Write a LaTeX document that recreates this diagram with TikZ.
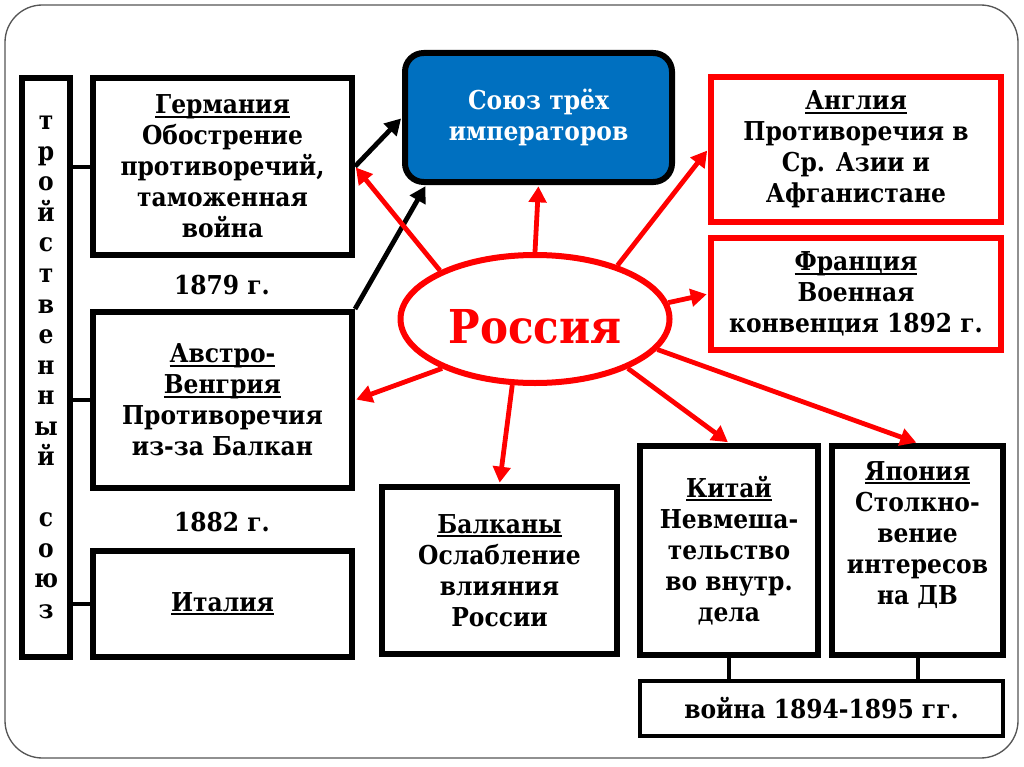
\documentclass[tikz,border=0pt]{standalone}
\usepackage{fontspec}
\setmainfont{DejaVu Serif Condensed}
\usepackage{tikz}
\usetikzlibrary{arrows.meta}
\usetikzlibrary{shapes.geometric}

\definecolor{unionblue}{RGB}{0,112,192}
\definecolor{framegray}{RGB}{85,85,85}
\newcommand{\boxfont}{\fontsize{19.5}{23.3}\selectfont\bfseries}
\newcommand{\uhead}[1]{\leavevmode\setbox0\hbox{#1}\rlap{\rule[-3pt]{\wd0}{1.5pt}}\box0}

\begin{document}
\begin{tikzpicture}[x=0.75pt, y=-0.75pt,
    >={Triangle[length=12pt,width=13pt]},
    box/.style={draw, line width=4.5pt, inner sep=0pt, align=center, font=\boxfont},
    boxsize/.style 2 args={minimum width=#1*0.75pt, minimum height=#2*0.75pt},
    redbox/.style={box, draw=red},
    redarrow/.style={->, draw=red, line width=3.6pt, shorten >=1pt},
    blackarrow/.style={->, line width=3.6pt, shorten >=1pt},
    link/.style={line width=3pt}]
  \useasboundingbox (0,0) rectangle (1024,767);
  \draw[framegray, line width=1pt, rounded corners=28pt] (5,5) rectangle (1018,758);

  % left column
  \node[box, boxsize={48}{579}, font=\fontsize{19.5}{22.9}\selectfont\bfseries] (trio) at (46,367.5)
    {т\\р\\о\\й\\с\\т\\в\\е\\н\\н\\ы\\й\\[22.9pt]с\\о\\ю\\з};
  \node[box, boxsize={259}{177}] (germany) at (222.5,166.5) {\uhead{Германия}\\Обострение\\противоречий,\\таможенная\\война};
  \node[font=\boxfont] (y1879) at (222,285) {1879 г.};
  \node[box, boxsize={259}{176}] (austria) at (222.5,400) {\uhead{Австро-}\\\uhead{Венгрия}\\Противоречия\\из-за Балкан};
  \node[font=\boxfont] (y1882) at (222,522) {1882 г.};
  \node[box, boxsize={259}{106}] (italy) at (222.5,604) {\uhead{Италия}};

  % centre
  \node[box, boxsize={267}{129}, fill=unionblue, text=white, rounded corners=14pt] (union) at (538.5,117.5) {Союз трёх\\императоров};
  \node[ellipse, draw=red, line width=4.5pt, inner sep=0pt, minimum width=201.75pt, minimum height=96pt,
        text=red, font=\fontsize{35}{40}\selectfont\bfseries, text height=36pt, text depth=0pt] (russia) at (535,319) {Россия};
  \node[box, boxsize={235}{167}] (balkans) at (499.5,570.5) {\uhead{Балканы}\\Ослабление\\влияния\\России};

  % right column
  \node[redbox, boxsize={290}{145}] (england) at (856,149.5) {\uhead{Англия}\\Противоречия в\\Ср. Азии и\\Афганистане};
  \node[redbox, boxsize={290}{112}] (france) at (856,294) {\uhead{Франция}\\Военная\\конвенция 1892 г.};
  \node[box, boxsize={178}{209}] (china) at (729,550.5) {\uhead{Китай}\\Невмеша-\\тельство\\во внутр.\\дела};
  \node[box, boxsize={171}{209}] (japan) at (917.5,550.5) {\uhead{Япония}\\Столкно-\\вение\\интересов\\на ДВ\\[3pt]\mbox{}};
  \node[box, boxsize={363}{55}, line width=3.5pt] (war) at (821.5,708.5) {война 1894-1895 гг.};

  % links
  \draw[link] (trio.east |- germany.west) -- (germany.west);
  \draw[link] (trio.east |- austria.west) -- (austria.west);
  \draw[link] (trio.east |- italy.west) -- (italy.west);
  \draw[link] (china.south) -- (china.south |- war.north);
  \draw[link] (japan.south) -- (japan.south |- war.north);

  % arrows
  \draw[blackarrow] (germany.east) -- (union.west);
  \draw[blackarrow] (austria.north east) -- (union.211);
  \draw[redarrow] (russia.north) -- (union.south);
  \draw[redarrow] (russia.153) -- (germany.east);
  \draw[redarrow] (russia.33) -- (england.west);
  \draw[redarrow] (russia.7) -- (france.west);
  \draw[redarrow] (russia.208) -- (austria.east);
  \draw[redarrow] (russia.251) -- (balkans.north);
  \draw[redarrow] (russia.332) -- (china.north);
  \draw[redarrow] (russia.346) -- (japan.north);
\end{tikzpicture}
\end{document}
